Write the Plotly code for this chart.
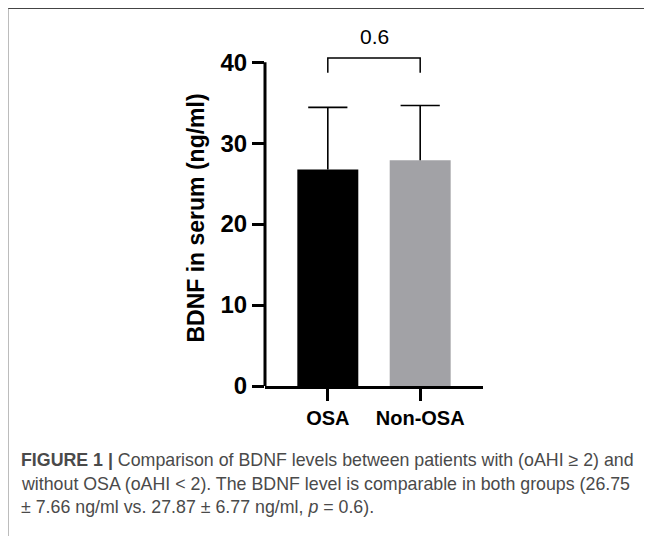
import plotly.graph_objects as go

# ---- data ----
groups = ["OSA", "Non-OSA"]
means = [26.75, 27.87]
sds = [7.66, 6.77]
bar_colors = ["#000000", "#A2A2A6"]
p_value_label = "0.6"
y_ticks = [0, 10, 20, 30, 40]
y_title = "BDNF in serum (ng/ml)"
caption_lines = [
    "<b>FIGURE 1 |</b> Comparison of BDNF levels between patients with (oAHI ≥ 2) and",
    "without OSA (oAHI &lt; 2). The BDNF level is comparable in both groups (26.75",
    "± 7.66 ng/ml vs. 27.87 ± 6.77 ng/ml, <i>p</i> = 0.6).",
]

# ---- layout geometry (window pixels; page body has an 8px margin) ----
OFF = 8
WIN_W, WIN_H = 652, 536
W, H = WIN_W - OFF, WIN_H - OFF
PL, PR, PT, PB = 265, 483, 50, 386   # plot area in window pixels
L, R, T, B = PL - OFF, W - (PR - OFF), PT - OFF, H - (PB - OFF)
PW, PH = PR - PL, PB - PT
YMAX = 41.5


def px_x(px):
    return (px - PL) / PW


def px_y(py):
    return (PB - py) / PH


fig = go.Figure()

fig.add_trace(go.Bar(
    x=groups, y=means, width=0.66,
    marker=dict(color=bar_colors, line=dict(width=0)),
    showlegend=False, hoverinfo="skip",
))

# upper-only error bars: stem down to the bar top, cap only at the top
upper = [m + s for m, s in zip(means, sds)]
fig.add_trace(go.Scatter(
    x=groups, y=upper, mode="markers",
    marker=dict(symbol="line-ew", size=28, color="#000000",
                line=dict(color="#000000", width=1.6)),
    error_y=dict(type="data", symmetric=False, array=[0, 0], arrayminus=sds,
                 color="#000000", thickness=1.6, width=0),
    showlegend=False, hoverinfo="skip",
))

# significance bracket
br_top = 40.5
br_leg = 38.7
fig.add_trace(go.Scatter(
    x=[groups[0], groups[0], groups[1], groups[1]],
    y=[br_leg, br_top, br_top, br_leg], mode="lines",
    line=dict(color="#000000", width=1.5), showlegend=False, hoverinfo="skip",
))

fig.add_annotation(x=0.5, y=px_y(37), xref="x", yref="paper", text=p_value_label,
                   showarrow=False, font=dict(family="Liberation Sans", size=21, color="#000000"),
                   xanchor="center", yanchor="middle")

# y axis line only up to 40
fig.add_shape(type="line", xref="x domain", yref="y domain", x0=0, x1=0,
              y0=0, y1=max(y_ticks) / YMAX, line=dict(color="#000000", width=3))

# figure frame (top and left)
fig.add_shape(type="line", xref="paper", yref="paper", x0=px_x(7), x1=px_x(WIN_W),
              y0=px_y(8), y1=px_y(8), line=dict(color="#444444", width=2))
fig.add_shape(type="line", xref="paper", yref="paper", x0=px_x(7.5), x1=px_x(7.5),
              y0=px_y(8), y1=px_y(WIN_H), line=dict(color="#7a7a7a", width=2))

# caption
for line, py in zip(caption_lines, [460, 483.5, 507]):
    fig.add_annotation(x=px_x(19), y=px_y(py), xref="paper", yref="paper", text=line,
                       showarrow=False, xanchor="left", yanchor="middle", align="left",
                       font=dict(family="Liberation Sans", size=17.8, color="#4a4a4a"))

fig.update_layout(
    width=W, height=H,
    margin=dict(l=L, r=R, t=T, b=B, autoexpand=False),
    paper_bgcolor="#ffffff", plot_bgcolor="#ffffff",
    font=dict(family="Liberation Sans", color="#000000"),
)
fig.update_xaxes(
    range=[-0.68, 1.68], showgrid=False, zeroline=False,
    showline=True, linecolor="#000000", linewidth=3,
    ticks="outside", ticklen=12, tickwidth=3, tickcolor="#000000",
    tickfont=dict(family="Liberation Sans", size=20, color="#000000", weight="bold"),
    fixedrange=True,
)
fig.update_yaxes(
    range=[0, YMAX], tickvals=y_ticks, showgrid=False, zeroline=False,
    showline=False,
    ticks="outside", ticklen=12, tickwidth=3, tickcolor="#000000",
    tickfont=dict(family="Liberation Sans", size=24, color="#000000", weight="bold"),
    title=dict(text=y_title, standoff=9,
               font=dict(family="Liberation Sans", size=23, color="#000000", weight="bold")),
    fixedrange=True,
)

fig.write_html("out.html")
